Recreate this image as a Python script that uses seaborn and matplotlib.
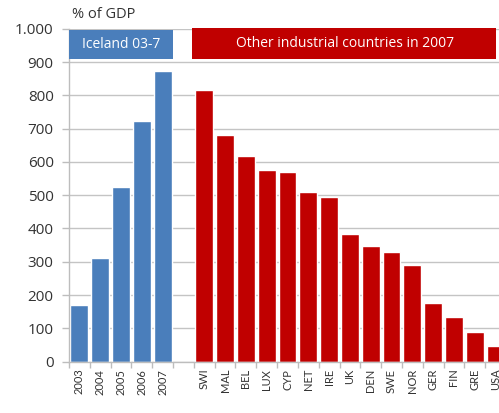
import pandas as pd
import seaborn as sns
import matplotlib.pyplot as plt
from matplotlib.patches import Rectangle
from matplotlib.ticker import FuncFormatter, MultipleLocator

# Dados
anos = ["2003", "2004", "2005", "2006", "2007"]
islandia = [170, 312, 525, 724, 873]

paises = ["SWI", "MAL", "BEL", "LUX", "CYP", "NET", "IRE", "UK", "DEN",
          "SWE", "NOR", "GER", "FIN", "GRE", "USA"]
outros = [816, 680, 617, 576, 571, 510, 495, 383, 348, 329, 290, 177, 133, 90, 48]

grupo_isl = "Iceland 03-7"
grupo_out = "Other industrial countries in 2007"

azul = "#4A7EBB"
vermelho = "#C00000"

dados = pd.DataFrame({
    "cat": anos + paises,
    "valor": islandia + outros,
    "grupo": [grupo_isl] * len(anos) + [grupo_out] * len(paises),
})
ordem = anos + [" "] + paises

sns.set_style("white")
plt.rcParams["font.family"] = ["Open Sans", "DejaVu Sans"]

fig = plt.figure(figsize=(4.99, 4.13), dpi=100)
ax = fig.add_axes([69 / 499, 51.3 / 413, 437 / 499, 333 / 413])

sns.barplot(data=dados, x="cat", y="valor", hue="grupo", order=ordem,
            palette={grupo_isl: azul, grupo_out: vermelho},
            dodge=False, width=0.86, legend=False, ax=ax, saturation=1)

ax.set_xlim(-0.5, len(ordem) - 0.5)
ax.set_ylim(0, 1000)
ax.yaxis.set_major_locator(MultipleLocator(100))
ax.yaxis.set_major_formatter(FuncFormatter(lambda v, p: f"{int(v):,}".replace(",", ".")))
ax.grid(axis="y", color="#c4c4c4", linewidth=1)
ax.set_axisbelow(True)
ax.set_xlabel("")
ax.set_ylabel("")

for lado in ["top", "right"]:
    ax.spines[lado].set_visible(False)
for lado in ["left", "bottom"]:
    ax.spines[lado].set_color("#bdbdbd")
    ax.spines[lado].set_linewidth(1)

ax.tick_params(axis="y", length=5, width=1, color="#bdbdbd", pad=6,
               labelsize=11, labelcolor="#333333", left=True)
ax.tick_params(axis="x", which="major", length=0, labelsize=8,
               labelcolor="#333333", rotation=90, pad=5)
for lbl in ax.get_xticklabels():
    lbl.set_family(["Lato", "DejaVu Sans"])
ax.set_xticks([i + 0.5 for i in range(-1, len(ordem))], minor=True)
ax.tick_params(axis="x", which="minor", length=4, width=1, color="#bdbdbd", bottom=True)

# caixas de cabeçalho
ax.add_patch(Rectangle((-0.5, 908), 5.0, 88, facecolor=azul, edgecolor="none",
                       clip_on=False, zorder=3))
ax.text(2.0, 952, grupo_isl, color="white", ha="center", va="center",
        fontsize=10, zorder=4)
ax.add_patch(Rectangle((5.42, 910), 14.6, 91, facecolor=vermelho, edgecolor="none",
                       clip_on=False, zorder=3))
ax.text(12.75, 955, grupo_out, color="white", ha="center", va="center",
        fontsize=10, zorder=4)

fig.text(72 / 499, 1 - 15 / 413, "% of GDP", fontsize=10.5, color="#333333",
         ha="left", va="center")

fig.savefig("out.png", dpi=100)
